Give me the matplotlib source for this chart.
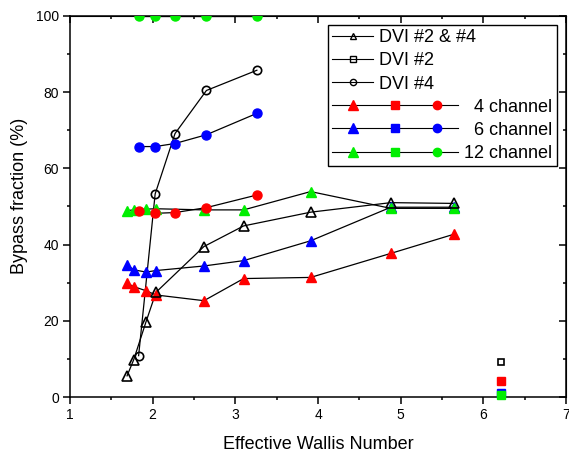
import matplotlib
matplotlib.use("Agg")
import matplotlib.pyplot as plt
from matplotlib.lines import Line2D
from matplotlib.legend_handler import HandlerBase
from matplotlib.ticker import MultipleLocator

plt.rcParams['font.family'] = ['Liberation Sans', 'DejaVu Sans']

# triangles: DVI #2 & #4 combined
x_tri = [1.69, 1.77, 1.92, 2.04, 2.62, 3.10, 3.91, 4.88, 5.64]
dvi24 = [5.6, 9.8, 19.8, 27.5, 39.5, 44.9, 48.5, 51.0, 50.8]
tri_4ch = [29.9, 29.0, 27.9, 26.8, 25.3, 31.1, 31.4, 37.7, 42.7]
tri_6ch = [34.7, 33.4, 32.8, 33.2, 34.4, 35.8, 41.0, 49.8, 49.8]
tri_12ch = [48.9, 49.1, 49.3, 49.4, 49.1, 49.1, 53.9, 49.5, 49.5]

# squares: DVI #2
x_sq = [6.21]
dvi2 = [9.3]
sq_4ch = [4.2]
sq_6ch = [1.2]
sq_12ch = [0.6]

# circles: DVI #4
x_circ = [1.83, 2.03, 2.27, 2.65, 3.26]
dvi4 = [10.9, 53.3, 69.1, 80.4, 85.7]
circ_4ch = [48.8, 48.2, 48.4, 49.7, 53.0]
circ_6ch = [65.7, 65.7, 66.5, 68.8, 74.4]
circ_12ch = [99.8, 99.8, 99.8, 99.8, 99.8]

red = '#ff0000'
blue = '#0000ff'
green = '#00ee00'

fig = plt.figure(figsize=(5.69, 4.55), dpi=100)
ax = fig.add_axes([0.123, 0.127, 0.872, 0.8385])

series = [
    (x_tri, tri_4ch, '^', red), (x_tri, tri_6ch, '^', blue), (x_tri, tri_12ch, '^', green),
    (x_circ, circ_4ch, 'o', red), (x_circ, circ_6ch, 'o', blue), (x_circ, circ_12ch, 'o', green),
]
for x, y, m, c in series:
    ax.plot(x, y, '-', color='k', lw=0.9, zorder=2)
for x, y, m, c in series:
    ms = 7 if m == '^' else 6.5
    pts, = ax.plot(x, y, ls='none', marker=m, color=c, ms=ms, zorder=3)
    pts.set_clip_path(ax.patch)  # so markers at 100 % are cut at the frame

for x, y, c in [(x_sq, sq_4ch, red), (x_sq, sq_6ch, blue), (x_sq, sq_12ch, green)]:
    ax.plot(x, y, ls='none', marker='s', color=c, ms=5.5, zorder=3, clip_on=False)

ax.plot(x_tri, dvi24, '-', color='k', lw=0.9, zorder=2)
ax.plot(x_tri, dvi24, ls='none', marker='^', mfc='none', mec='k', mew=1.2, ms=6.5, zorder=4)
ax.plot(x_circ, dvi4, '-', color='k', lw=0.9, zorder=2)
ax.plot(x_circ, dvi4, ls='none', marker='o', mfc='none', mec='k', mew=1.2, ms=6, zorder=4)
ax.plot(x_sq, dvi2, ls='none', marker='s', mfc='none', mec='k', mew=1.2, ms=5, zorder=4)

ax.set_xlim(1, 7)
ax.set_ylim(0, 100)
ax.xaxis.set_major_locator(MultipleLocator(1))
ax.xaxis.set_minor_locator(MultipleLocator(0.5))
ax.yaxis.set_major_locator(MultipleLocator(20))
ax.yaxis.set_minor_locator(MultipleLocator(10))
ax.tick_params(which='major', direction='out', length=5, width=1.1, labelsize=10, pad=3)
ax.tick_params(which='minor', direction='out', length=2.5, width=1.1)
for s in ax.spines.values():
    s.set_linewidth(1.1)

top = ax.secondary_xaxis('top')
top.xaxis.set_major_locator(MultipleLocator(1))
top.xaxis.set_minor_locator(MultipleLocator(0.5))
top.tick_params(which='major', direction='in', length=5, width=1.1, labeltop=False)
top.tick_params(which='minor', direction='in', length=2.5, width=1.1)
right = ax.secondary_yaxis('right')
right.yaxis.set_major_locator(MultipleLocator(20))
right.yaxis.set_minor_locator(MultipleLocator(10))
right.tick_params(which='major', direction='in', length=5, width=1.1, labelright=False)
right.tick_params(which='minor', direction='in', length=2.5, width=1.1)

ax.set_xlabel('Effective Wallis Number', fontsize=13)
ax.set_ylabel('Bypass fraction (%)', fontsize=13)
ax.xaxis.set_label_coords(0.5, -0.102)
ax.yaxis.set_label_coords(-0.085, 0.527)


class ThreeMarkerHandler(HandlerBase):
    def create_artists(self, legend, orig_handle, xdescent, ydescent,
                       width, height, fontsize, trans):
        c = orig_handle.get_color()
        y = height / 2 - ydescent
        x0 = -xdescent
        arts = [Line2D([x0, x0 + 3.07 * width], [y, y], color='k', lw=0.8)]
        for k, (m, ms) in enumerate([('^', 7), ('s', 5.5), ('o', 6)]):
            xm = x0 + width * (0.5 + 1.03 * k)
            arts.append(Line2D([xm], [y], ls='none', marker=m, color=c, ms=ms))
        for a in arts:
            a.set_transform(trans)
        return arts


h_dvi24 = Line2D([], [], color='k', lw=0.8, marker='^', mfc='none', mec='k', ms=5)
h_dvi2 = Line2D([], [], color='k', lw=0.8, marker='s', mfc='none', mec='k', ms=4.5)
h_dvi4 = Line2D([], [], color='k', lw=0.8, marker='o', mfc='none', mec='k', ms=4.5)
h4 = Line2D([], [], color=red)
h6 = Line2D([], [], color=blue)
h12 = Line2D([], [], color=green)
pad = ' ' * 17
handles = [h_dvi24, h_dvi2, h_dvi4, h4, h6, h12]
labels = ['DVI #2 & #4', 'DVI #2', 'DVI #4',
          pad + '  4 channel', pad + '  6 channel', pad + '12 channel']
hm = {h: ThreeMarkerHandler() for h in (h4, h6, h12)}
leg = ax.legend(handles, labels, handler_map=hm, loc='upper right', fontsize=13,
                handlelength=2.27, handletextpad=0.33, borderpad=0.25, labelspacing=0.34,
                borderaxespad=0.5, fancybox=False, framealpha=1, edgecolor='k')
leg.get_frame().set_linewidth(1.0)
leg.set_zorder(5)

fig.savefig('out.png', dpi=100)
